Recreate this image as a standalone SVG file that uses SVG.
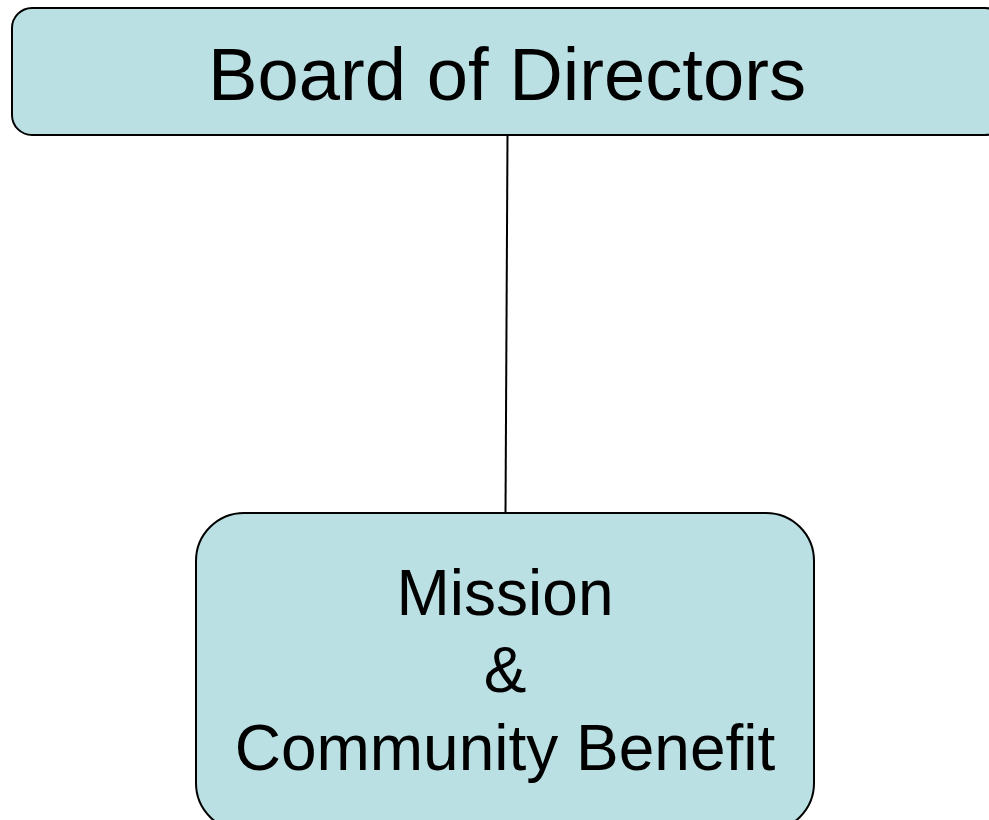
<svg xmlns="http://www.w3.org/2000/svg" width="989" height="820" viewBox="0 0 989 820">
  <style>
    .box { fill: #BBE0E3; stroke: #000000; stroke-width: 2; }
    .label { font-family: "Liberation Sans", Arial, sans-serif; fill: #000000; text-anchor: middle; }
    .link { stroke: #000000; stroke-width: 2; fill: none; }
  </style>
  <rect x="0" y="0" width="989" height="820" fill="#FFFFFF"/>
  <g id="connectors">
    <line class="link" x1="507.5" y1="135" x2="505.5" y2="513"/>
  </g>
  <g id="board">
    <rect class="box" x="12" y="8" width="993" height="127" rx="20" ry="20"/>
    <text class="label" x="507" y="100" font-size="74" textLength="598" lengthAdjust="spacingAndGlyphs">Board of Directors</text>
  </g>
  <g id="mission">
    <rect class="box" x="196" y="513" width="618" height="318" rx="48" ry="48"/>
    <text class="label" x="505" y="615" font-size="64">Mission</text>
    <text class="label" x="505" y="692" font-size="64">&amp;</text>
    <text class="label" x="505" y="770" font-size="64">Community Benefit</text>
  </g>
</svg>
